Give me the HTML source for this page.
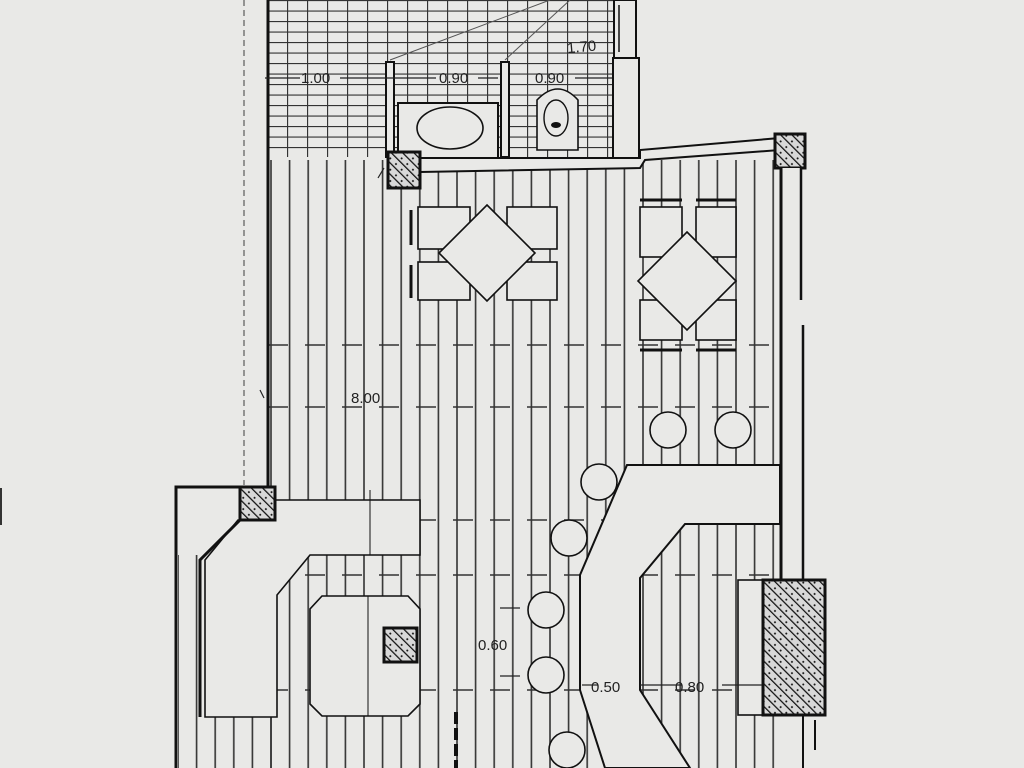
<!DOCTYPE html>
<html><head><meta charset="utf-8"><style>
html,body{margin:0;padding:0;background:#e9e9e7;}
svg{display:block;}
text{font-family:"Liberation Sans",sans-serif;font-size:15px;fill:#222;}
</style></head><body>
<svg width="1024" height="768" viewBox="0 0 1024 768" xmlns="http://www.w3.org/2000/svg">
<defs>
<pattern id="pl" x="270" y="0" width="18.6" height="768" patternUnits="userSpaceOnUse">
<line x1="1" y1="0" x2="1" y2="768" stroke="#333" stroke-width="1.6"/>
</pattern>
<pattern id="tile" x="267" y="0" width="20" height="10.5" patternUnits="userSpaceOnUse">
<line x1="0" y1="0.5" x2="20" y2="0.5" stroke="#333" stroke-width="1.3"/>
<line x1="0.5" y1="0" x2="0.5" y2="10.5" stroke="#333" stroke-width="1.3"/>
</pattern>
<pattern id="hat" width="8" height="8" patternUnits="userSpaceOnUse" patternTransform="rotate(-45)">
<rect width="8" height="8" fill="#d8d8d8"/>
<line x1="0" y1="0" x2="0" y2="8" stroke="#111" stroke-width="2.5"/>
<circle cx="4" cy="4" r="1" fill="#111"/>
</pattern>
</defs>
<rect width="1024" height="768" fill="#e9e9e7"/>
<!-- faint left line -->
<line x1="244" y1="0" x2="244" y2="485" stroke="#777" stroke-width="1.5" stroke-dasharray="6 4"/>
<line x1="1" y1="488" x2="1" y2="525" stroke="#333" stroke-width="2"/>
<!-- tiled wet area -->
<rect x="268" y="0" width="347" height="157" fill="url(#tile)"/>
<line x1="390" y1="60" x2="550" y2="0" stroke="#555" stroke-width="1"/>
<line x1="505" y1="60" x2="570" y2="0" stroke="#555" stroke-width="1"/>
<!-- planks -->
<rect x="268" y="160" width="512" height="608" fill="url(#pl)"/>
<rect x="178" y="555" width="100" height="213" fill="url(#pl)"/>
<g stroke="#333" stroke-width="1.6" stroke-dasharray="20 17">
<line x1="268" y1="345" x2="780" y2="345"/>
<line x1="268" y1="407" x2="780" y2="407"/>
<line x1="268" y1="520" x2="780" y2="520"/>
<line x1="268" y1="575" x2="780" y2="575"/>
<line x1="268" y1="690" x2="780" y2="690"/>
</g>
<!-- left main walls -->
<line x1="268" y1="0" x2="268" y2="487" stroke="#111" stroke-width="3"/>
<line x1="625" y1="0" x2="625" y2="60" stroke="#111" stroke-width="2"/>
<rect x="614" y="0" width="22" height="60" fill="#e9e9e7" stroke="#111" stroke-width="2"/>
<line x1="619" y1="5" x2="619" y2="52" stroke="#111" stroke-width="1.5"/>
<rect x="613" y="58" width="26" height="110" fill="#e9e9e7" stroke="#111" stroke-width="2"/>
<!-- bathroom partitions -->
<rect x="386" y="62" width="8" height="95" fill="#e9e9e7" stroke="#111" stroke-width="2"/>
<rect x="501" y="62" width="8" height="95" fill="#e9e9e7" stroke="#111" stroke-width="2"/>
<rect x="398" y="103" width="100" height="55" fill="#e9e9e7" stroke="#111" stroke-width="2"/>
<ellipse cx="450" cy="128" rx="33" ry="21" fill="#e9e9e7" stroke="#111" stroke-width="1.6"/>
<rect x="512" y="82" width="100" height="76" fill="none"/>
<path d="M537 150 L537 100 Q558 78 578 100 L578 150 Z" fill="#e9e9e7" stroke="#111" stroke-width="1.6"/>
<ellipse cx="556" cy="118" rx="12" ry="18" fill="none" stroke="#111" stroke-width="1.4"/>
<ellipse cx="556" cy="125" rx="5" ry="3" fill="#111"/>
<!-- bottom wall of wet area -->
<path d="M400 158 L640 158 L640 150 L780 138 L780 150 L645 160 L640 168 L420 172 Z" fill="#e9e9e7" stroke="#111" stroke-width="2"/>
<rect x="388" y="152" width="32" height="36" fill="url(#hat)" stroke="#111" stroke-width="3"/>
<rect x="775" y="134" width="30" height="34" fill="url(#hat)" stroke="#111" stroke-width="3"/>
<!-- right wall -->
<rect x="780" y="168" width="20" height="412" fill="#e9e9e7"/>
<line x1="781" y1="168" x2="781" y2="580" stroke="#111" stroke-width="3"/>
<line x1="801" y1="168" x2="801" y2="300" stroke="#111" stroke-width="2.5"/>
<line x1="803" y1="325" x2="803" y2="580" stroke="#111" stroke-width="2.5"/>
<!-- tables -->
<g fill="#e9e9e7" stroke="#111" stroke-width="1.6">
<rect x="418" y="207" width="52" height="42"/><rect x="507" y="207" width="50" height="42"/>
<rect x="418" y="262" width="52" height="38"/><rect x="507" y="262" width="50" height="38"/>
<polygon points="487,205 535,253 487,301 439,253"/>
<rect x="640" y="207" width="42" height="50"/><rect x="696" y="207" width="40" height="50"/>
<rect x="640" y="300" width="42" height="40"/><rect x="696" y="300" width="40" height="40"/>
<polygon points="687,232 736,281 687,330 638,281"/>
</g>
<g stroke="#111" stroke-width="3"><line x1="640" y1="200" x2="682" y2="200"/><line x1="696" y1="200" x2="736" y2="200"/>
<line x1="640" y1="350" x2="682" y2="350"/><line x1="696" y1="350" x2="736" y2="350"/>
<line x1="411" y1="210" x2="411" y2="245"/><line x1="411" y1="265" x2="411" y2="298"/></g>
<!-- stools -->
<g fill="#e9e9e7" stroke="#111" stroke-width="1.6">
<circle cx="668" cy="430" r="18"/><circle cx="733" cy="430" r="18"/>
<circle cx="599" cy="482" r="18"/><circle cx="569" cy="538" r="18"/>
<circle cx="546" cy="610" r="18"/><circle cx="546" cy="675" r="18"/>
<circle cx="567" cy="750" r="18"/>
</g>
<!-- bar counter -->
<polygon points="627,465 780,465 780,524 685,524 640,578 640,690 690,768 605,768 580,690 580,575" fill="#e9e9e7" stroke="#111" stroke-width="2"/>
<rect x="738" y="580" width="25" height="135" fill="#e9e9e7" stroke="#111" stroke-width="1.6"/>
<rect x="763" y="580" width="62" height="135" fill="url(#hat)" stroke="#111" stroke-width="3"/>
<line x1="803" y1="715" x2="803" y2="768" stroke="#111" stroke-width="2"/>
<line x1="815" y1="720" x2="815" y2="750" stroke="#111" stroke-width="2"/>
<!-- left counter area -->
<polyline points="240,487 176,487 176,768" fill="none" stroke="#111" stroke-width="3"/>
<polygon points="275,500 420,500 420,555 310,555 277,595 277,717 205,717 205,560 238,520 275,520" fill="#e9e9e7" stroke="#111" stroke-width="1.6"/>
<polyline points="240,520 200,560 200,717" fill="none" stroke="#111" stroke-width="3"/>
<line x1="370" y1="490" x2="370" y2="555" stroke="#111" stroke-width="1"/>
<rect x="240" y="487" width="35" height="33" fill="url(#hat)" stroke="#111" stroke-width="3"/>
<polygon points="322,596 408,596 420,609 420,704 408,716 322,716 310,704 310,609" fill="#e9e9e7" stroke="#111" stroke-width="1.6"/>
<line x1="368" y1="596" x2="368" y2="716" stroke="#111" stroke-width="1"/>
<rect x="384" y="628" width="33" height="34" fill="url(#hat)" stroke="#111" stroke-width="3"/>
<line x1="456" y1="712" x2="456" y2="768" stroke="#111" stroke-width="4" stroke-dasharray="12 4"/>
<!-- dimension lines -->
<g stroke="#222" stroke-width="1.2">
<line x1="265" y1="78" x2="300" y2="78"/><line x1="340" y1="78" x2="436" y2="78"/>
<line x1="478" y1="78" x2="498" y2="78"/><line x1="575" y1="78" x2="612" y2="78"/>
<line x1="500" y1="608" x2="520" y2="608"/><line x1="500" y1="676" x2="520" y2="676"/>
<line x1="582" y1="685" x2="598" y2="685"/><line x1="640" y1="685" x2="682" y2="685"/><line x1="722" y1="685" x2="762" y2="685"/>
<line x1="260" y1="390" x2="264" y2="398"/>
<line x1="378" y1="178" x2="384" y2="168"/>
</g>
<text x="301" y="83">1.00</text>
<text x="439" y="83">0.90</text>
<text x="535" y="83">0.90</text>
<text x="567" y="52" transform="rotate(-5 580 47)">1.70</text>
<text x="351" y="403">8.00</text>
<text x="478" y="650">0.60</text>
<text x="591" y="692">0.50</text>
<text x="675" y="692">0.80</text>
</svg>
</body></html>
